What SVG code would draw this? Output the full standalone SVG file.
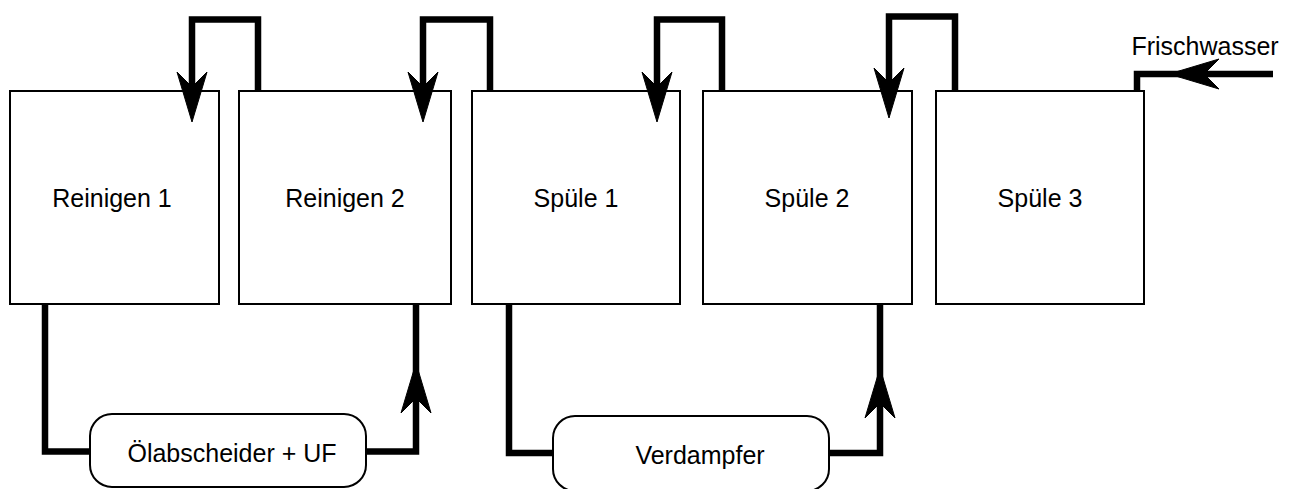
<svg xmlns="http://www.w3.org/2000/svg" xmlns:xlink="http://www.w3.org/1999/xlink" width="1301" height="489" viewBox="0 0 1301 489">
<style>
.box{fill:#fff;stroke:#000;stroke-width:2}
.pipe{fill:none;stroke:#000;stroke-width:6.5;stroke-linejoin:miter;stroke-linecap:butt}
.lbl{font-family:"Liberation Sans",Arial,sans-serif;font-size:25px;fill:#000;text-anchor:middle}
.head{fill:#000;stroke:#000;stroke-width:1}
</style>
<defs>
<path id="ah" d="M0,0 L-15,-50 L0,-35 L15,-50 Z"/>
</defs>
<rect width="1301" height="489" fill="#fff"/>
<g id="reinigen1"><rect class="box" x="10" y="91" width="209" height="213"/><text class="lbl" x="112" y="207">Reinigen 1</text></g>
<g id="reinigen2"><rect class="box" x="239" y="91" width="212" height="213"/><text class="lbl" x="345" y="207">Reinigen 2</text></g>
<g id="spuele1"><rect class="box" x="472" y="91" width="208" height="213"/><text class="lbl" x="576" y="207">Spüle 1</text></g>
<g id="spuele2"><rect class="box" x="703" y="91" width="209" height="213"/><text class="lbl" x="807" y="207">Spüle 2</text></g>
<g id="spuele3"><rect class="box" x="936" y="91" width="208" height="213"/><text class="lbl" x="1040" y="207">Spüle 3</text></g>
<g id="oelabscheider"><rect class="box" x="90" y="414" width="276" height="73" rx="22" ry="22"/><text class="lbl" x="232" y="462">Ölabscheider + UF</text></g>
<g id="verdampfer"><rect class="box" x="553" y="416" width="276" height="75" rx="22" ry="22"/><text class="lbl" x="700" y="464">Verdampfer</text></g>
<g id="frischwasser"><text class="lbl" x="1205" y="55">Frischwasser</text></g>
<g id="connectors">
<path class="pipe" d="M258,90 V19.5 H192 V105"/>
<path class="pipe" d="M490,90 V19.5 H423 V105"/>
<path class="pipe" d="M722,90 V19.5 H657 V105"/>
<path class="pipe" d="M955,90 V16.5 H889 V101"/>
<path class="pipe" d="M1273,74 H1137 V90"/>
<path class="pipe" d="M45,305 V451.5 H89"/>
<path class="pipe" d="M367,451.5 H416 V305"/>
<path class="pipe" d="M509,305 V453 H552"/>
<path class="pipe" d="M830,453 H880 V305"/>
<use xlink:href="#ah" class="head" transform="translate(192,122)"/>
<use xlink:href="#ah" class="head" transform="translate(423,122)"/>
<use xlink:href="#ah" class="head" transform="translate(657,122)"/>
<use xlink:href="#ah" class="head" transform="translate(889,118)"/>
<use xlink:href="#ah" class="head" transform="translate(1169,74) rotate(90)"/>
<use xlink:href="#ah" class="head" transform="translate(416,363) rotate(180)"/>
<use xlink:href="#ah" class="head" transform="translate(880,368) rotate(180)"/>
</g>
</svg>
